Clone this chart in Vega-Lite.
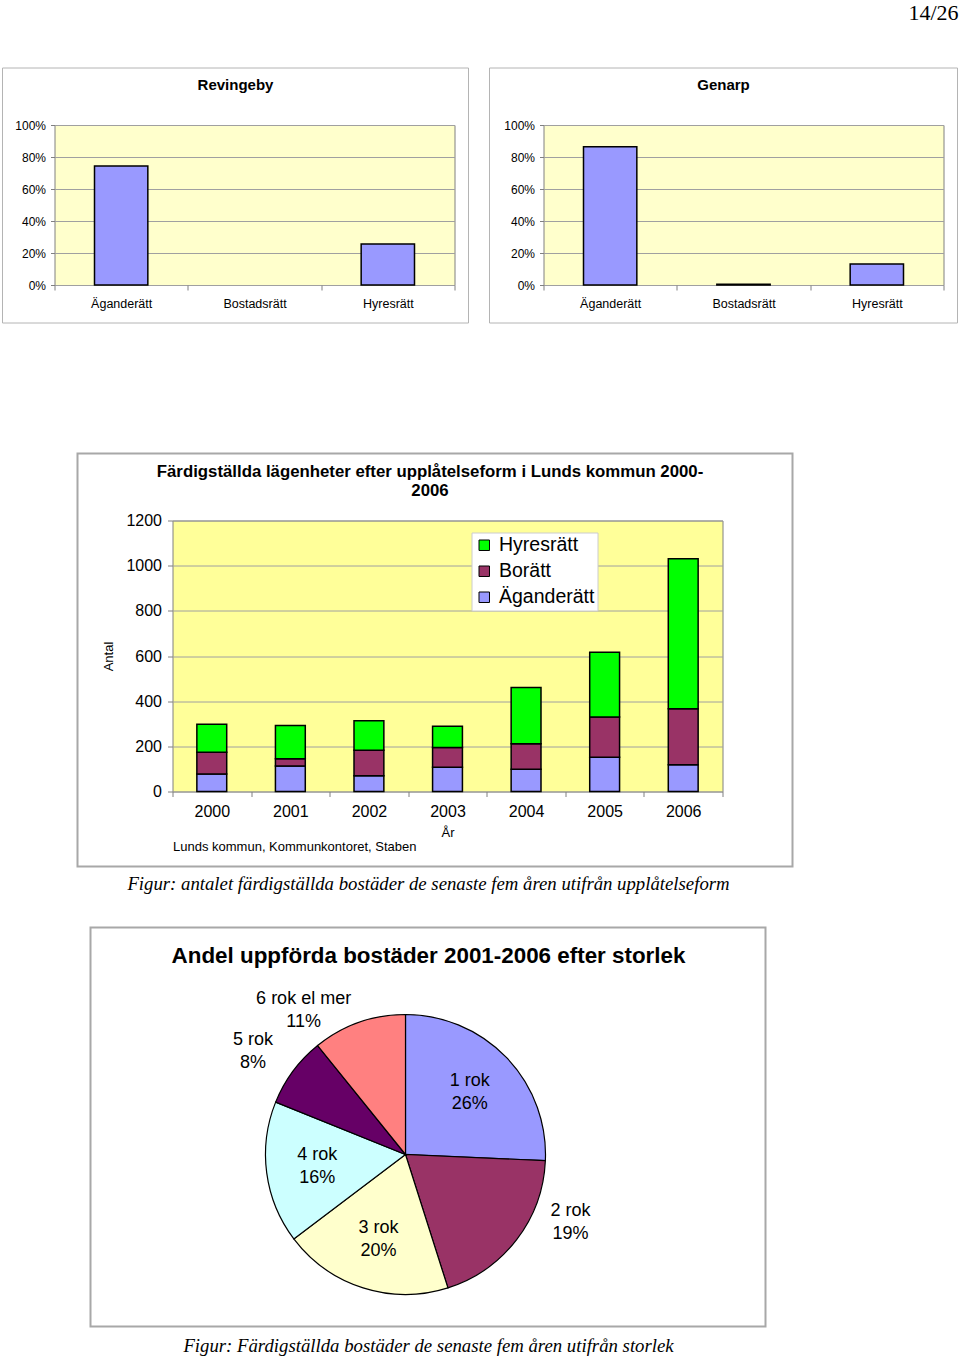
{
  "$schema": "https://vega.github.io/schema/vega-lite/v6.json",
  "background": "white",
  "padding": {"left": 1.5, "top": 2, "right": 2, "bottom": 2},
  "title": {"text": "14/26", "anchor": "end", "frame": "bounds", "font": "Liberation Serif", "fontSize": 22, "fontWeight": "normal", "color": "black", "offset": 42},
  "config": {
    "font": "Liberation Sans",
    "view": {"stroke": null},
    "axis": {"labelColor": "black", "titleColor": "black", "labelFont": "Liberation Sans", "titleFont": "Liberation Sans", "titleFontWeight": "normal"},
    "title": {"color": "black", "subtitleColor": "black"}
  },
  "spacing": 127.5,
  "resolve": {"scale": {"color": "independent"}, "legend": {"color": "independent"}},
  "vconcat": [
    {
      "hconcat": [
        {
          "width": 400, "height": 160,
          "view": {"fill": "#FFFFCC", "stroke": "#808080", "strokeWidth": 1},
          "title": {"text": "Revingeby", "frame": "bounds", "anchor": "middle", "fontSize": 15, "fontWeight": "bold", "offset": -25},
          "layer": [
            {"data": {"values": [{}]}, "mark": {"type": "rect", "filled": false, "stroke": "#b4b4b4", "strokeWidth": 1},
             "encoding": {
               "x": {"datum": 0, "type": "quantitative", "scale": {"domain": [0, 1], "range": [-52, 414]}, "axis": null},
               "x2": {"datum": 1},
               "y": {"datum": 0, "type": "quantitative", "scale": {"domain": [0, 1], "range": [-57, 198]}, "axis": null},
               "y2": {"datum": 1}}},
            {"data": {"values": [{"form": "Äganderätt", "andel": 0.743}, {"form": "Hyresrätt", "andel": 0.257}]},
             "mark": {"type": "bar", "fill": "#9999FF", "stroke": "black", "strokeWidth": 1.5, "width": {"band": 0.4}},
             "encoding": {
               "x": {"field": "form", "type": "nominal", "sort": null, "scale": {"domain": ["Äganderätt", "Bostadsrätt", "Hyresrätt"], "paddingInner": 0, "paddingOuter": 0},
                     "axis": {"title": null, "labelAngle": 0, "labelFontSize": 12.5, "labelPadding": 7, "tickBand": "extent", "tickSize": 5, "tickColor": "#808080", "domain": false, "grid": false}},
               "y": {"field": "andel", "type": "quantitative", "scale": {"domain": [0, 1]},
                     "axis": {"title": null, "values": [0, 0.2, 0.4, 0.6, 0.8, 1], "format": ".0%", "labelFontSize": 12, "labelPadding": 5, "tickSize": 4, "tickColor": "#808080", "domain": false, "grid": true, "gridColor": "#a0a0a0"}}}}
          ],
          "resolve": {"scale": {"x": "independent", "y": "independent"}}
        },
        {
          "width": 400, "height": 160,
          "view": {"fill": "#FFFFCC", "stroke": "#808080", "strokeWidth": 1},
          "title": {"text": "Genarp", "frame": "bounds", "anchor": "middle", "fontSize": 15, "fontWeight": "bold", "offset": -25},
          "layer": [
            {"data": {"values": [{}]}, "mark": {"type": "rect", "filled": false, "stroke": "#b4b4b4", "strokeWidth": 1},
             "encoding": {
               "x": {"datum": 0, "type": "quantitative", "scale": {"domain": [0, 1], "range": [-54, 414]}, "axis": null},
               "x2": {"datum": 1},
               "y": {"datum": 0, "type": "quantitative", "scale": {"domain": [0, 1], "range": [-57, 198]}, "axis": null},
               "y2": {"datum": 1}}},
            {"data": {"values": [{"form": "Äganderätt", "andel": 0.864}, {"form": "Bostadsrätt", "andel": 0.005}, {"form": "Hyresrätt", "andel": 0.131}]},
             "mark": {"type": "bar", "fill": "#9999FF", "stroke": "black", "strokeWidth": 1.5, "width": {"band": 0.4}},
             "encoding": {
               "x": {"field": "form", "type": "nominal", "sort": null, "scale": {"domain": ["Äganderätt", "Bostadsrätt", "Hyresrätt"], "paddingInner": 0, "paddingOuter": 0},
                     "axis": {"title": null, "labelAngle": 0, "labelFontSize": 12.5, "labelPadding": 7, "tickBand": "extent", "tickSize": 5, "tickColor": "#808080", "domain": false, "grid": false}},
               "y": {"field": "andel", "type": "quantitative", "scale": {"domain": [0, 1]},
                     "axis": {"title": null, "values": [0, 0.2, 0.4, 0.6, 0.8, 1], "format": ".0%", "labelFontSize": 12, "labelPadding": 5, "tickSize": 4, "tickColor": "#808080", "domain": false, "grid": true, "gridColor": "#a0a0a0"}}}}
          ],
          "resolve": {"scale": {"x": "independent", "y": "independent"}}
        }
      ],
      "spacing": 89,
      "bounds": "flush"
    },
    {
      "spacing": 6,
      "resolve": {"scale": {"color": "independent"}, "legend": {"color": "independent"}},
      "vconcat": [
        {
          "spacing": 0,
          "bounds": "flush",
          "hconcat": [
            {"width": 118, "height": 1, "data": {"values": []}, "mark": "point", "encoding": {}},
            {
              "width": 550, "height": 271,
              "view": {"fill": "#FFFF99", "stroke": "#808080", "strokeWidth": 1},
              "title": {"text": ["Färdigställda lägenheter efter upplåtelseform i Lunds kommun 2000-", "2006"], "frame": "bounds", "anchor": "middle", "dx": -5, "fontSize": 16.8, "fontWeight": "bold", "lineHeight": 19, "offset": -47},
              "layer": [
                {"data": {"values": [{}]}, "mark": {"type": "rect", "filled": false, "stroke": "#a8a8a8", "strokeWidth": 2},
                 "encoding": {
                   "x": {"datum": 0, "type": "quantitative", "scale": {"domain": [0, 1], "range": [-95, 620]}, "axis": null},
                   "x2": {"datum": 1},
                   "y": {"datum": 0, "type": "quantitative", "scale": {"domain": [0, 1], "range": [-67, 346]}, "axis": null},
                   "y2": {"datum": 1}}},
                {"data": {"values": [
                  {"year": "2000", "form": "Äganderätt", "nr": 1, "antal": 77},
                  {"year": "2000", "form": "Borätt", "nr": 2, "antal": 97},
                  {"year": "2000", "form": "Hyresrätt", "nr": 3, "antal": 124},
                  {"year": "2001", "form": "Äganderätt", "nr": 1, "antal": 113},
                  {"year": "2001", "form": "Borätt", "nr": 2, "antal": 32},
                  {"year": "2001", "form": "Hyresrätt", "nr": 3, "antal": 147},
                  {"year": "2002", "form": "Äganderätt", "nr": 1, "antal": 70},
                  {"year": "2002", "form": "Borätt", "nr": 2, "antal": 113},
                  {"year": "2002", "form": "Hyresrätt", "nr": 3, "antal": 130},
                  {"year": "2003", "form": "Äganderätt", "nr": 1, "antal": 107},
                  {"year": "2003", "form": "Borätt", "nr": 2, "antal": 88},
                  {"year": "2003", "form": "Hyresrätt", "nr": 3, "antal": 94},
                  {"year": "2004", "form": "Äganderätt", "nr": 1, "antal": 99},
                  {"year": "2004", "form": "Borätt", "nr": 2, "antal": 112},
                  {"year": "2004", "form": "Hyresrätt", "nr": 3, "antal": 250},
                  {"year": "2005", "form": "Äganderätt", "nr": 1, "antal": 152},
                  {"year": "2005", "form": "Borätt", "nr": 2, "antal": 178},
                  {"year": "2005", "form": "Hyresrätt", "nr": 3, "antal": 287},
                  {"year": "2006", "form": "Äganderätt", "nr": 1, "antal": 118},
                  {"year": "2006", "form": "Borätt", "nr": 2, "antal": 248},
                  {"year": "2006", "form": "Hyresrätt", "nr": 3, "antal": 665}
                ]},
                 "layer": [
                   {"mark": {"type": "bar", "stroke": "black", "strokeWidth": 1.5, "width": {"band": 0.38}},
                    "encoding": {
                      "x": {"field": "year", "type": "ordinal", "scale": {"paddingInner": 0, "paddingOuter": 0},
                            "axis": {"orient": "bottom", "title": "År", "titleFontSize": 13, "titlePadding": 7, "labelAngle": 0, "labelFontSize": 16, "labelPadding": 7, "tickBand": "extent", "tickSize": 5, "tickColor": "#808080", "domain": false, "grid": false}},
                      "y": {"field": "antal", "type": "quantitative", "stack": "zero", "scale": {"domain": [0, 1200]},
                            "axis": {"title": "Antal", "titleFontSize": 13, "titlePadding": 10, "values": [0, 200, 400, 600, 800, 1000, 1200], "format": "d", "labelFontSize": 16, "labelPadding": 6, "tickSize": 5, "tickColor": "#808080", "domain": false, "grid": true, "gridColor": "#a0a0a0"}},
                      "color": {"field": "form", "type": "nominal",
                                "scale": {"domain": ["Hyresrätt", "Borätt", "Äganderätt"], "range": ["#00FF00", "#993366", "#9999FF"]},
                                "legend": {"orient": "none", "legendX": 417, "legendY": 12, "title": null, "fillColor": "white", "strokeColor": "#cccccc", "padding": 3, "symbolType": "square", "symbolSize": 110, "symbolStrokeColor": "black", "symbolStrokeWidth": 1, "labelFontSize": 19.5, "labelOffset": 5, "rowPadding": 5, "labelColor": "black"}},
                      "order": {"field": "nr", "type": "quantitative"}}},
                   {"mark": {"type": "tick", "opacity": 0},
                    "encoding": {
                      "x": {"field": "year", "type": "ordinal",
                            "axis": {"orient": "bottom", "title": "Lunds kommun, Kommunkontoret, Staben", "titleAnchor": "start", "titleFontSize": 13, "titlePadding": 49, "labels": false, "ticks": false, "domain": false, "grid": false}}}}
                 ],
                 "resolve": {"axis": {"x": "independent"}}}
              ],
              "resolve": {"scale": {"x": "independent", "y": "independent"}}
            }
          ]
        },
        {
          "spacing": 0,
          "bounds": "flush",
          "hconcat": [
            {"width": 211, "height": 1, "data": {"values": []}, "mark": "point", "encoding": {}},
            {
              "width": 280, "height": 258,
              "title": {"text": "Figur: antalet färdigställda bostäder de senaste fem åren utifrån upplåtelseform", "subtitle": "Andel uppförda bostäder 2001-2006 efter storlek", "frame": "group", "anchor": "middle", "dx": 23, "font": "Liberation Serif", "fontStyle": "italic", "fontWeight": "normal", "fontSize": 18.75, "subtitleFont": "Liberation Sans", "subtitleFontWeight": "bold", "subtitleFontSize": 22.4, "subtitlePadding": 51, "offset": -41},
              "layer": [
                {"data": {"values": [{}]}, "mark": {"type": "rect", "filled": false, "stroke": "#a8a8a8", "strokeWidth": 2},
                 "encoding": {
                   "x": {"datum": 0, "type": "quantitative", "scale": {"domain": [0, 1], "range": [-175, 500]},
                         "axis": {"orient": "bottom", "title": "Figur: Färdigställda bostäder de senaste fem åren utifrån storlek", "titleFont": "Liberation Serif", "titleFontStyle": "italic", "titleFontWeight": "normal", "titleFontSize": 18.75, "titlePadding": 53, "labels": false, "ticks": false, "domain": false, "grid": false}},
                   "x2": {"datum": 1},
                   "y": {"datum": 0, "type": "quantitative", "scale": {"domain": [0, 1], "range": [-98, 301]}, "axis": null},
                   "y2": {"datum": 1}}},
                {"data": {"values": [
                  {"storlek": "1 rok", "andel": 25.7, "label": "1 rok\n26%"},
                  {"storlek": "2 rok", "andel": 19.4, "label": "2 rok\n19%"},
                  {"storlek": "3 rok", "andel": 19.6, "label": "3 rok\n20%"},
                  {"storlek": "4 rok", "andel": 16.4, "label": "4 rok\n16%"},
                  {"storlek": "5 rok", "andel": 8.1, "label": "5 rok\n8%"},
                  {"storlek": "6 rok el mer", "andel": 10.8, "label": "6 rok el mer\n11%"}
                ]},
                 "encoding": {"theta": {"field": "andel", "type": "quantitative", "stack": true}},
                 "layer": [
                   {"mark": {"type": "arc", "outerRadius": 140, "stroke": "black", "strokeWidth": 1.2},
                    "encoding": {"color": {"field": "storlek", "type": "nominal",
                      "scale": {"domain": ["1 rok", "2 rok", "3 rok", "4 rok", "5 rok", "6 rok el mer"], "range": ["#9999FF", "#993366", "#FFFFCC", "#CCFFFF", "#660066", "#FF8080"]}, "legend": null}}},
                   {"mark": {"type": "text", "radius": 89, "dy": -11.5, "fontSize": 18, "lineHeight": 23, "lineBreak": "\n", "fill": "black"},
                    "encoding": {"detail": {"field": "storlek", "type": "nominal"},
                      "text": {"condition": {"test": "indexof(['1 rok','3 rok','4 rok'], datum.storlek) >= 0", "field": "label", "type": "nominal"}, "value": ""}}},
                   {"mark": {"type": "text", "radius": 178, "thetaOffset": -0.27, "dy": -10, "fontSize": 18, "lineHeight": 23, "lineBreak": "\n", "fill": "black"},
                    "encoding": {"detail": {"field": "storlek", "type": "nominal"},
                      "text": {"condition": {"test": "indexof(['2 rok','6 rok el mer'], datum.storlek) >= 0", "field": "label", "type": "nominal"}, "value": ""}}},
                   {"mark": {"type": "text", "radius": 184, "thetaOffset": -0.044, "dy": -11.5, "fontSize": 18, "lineHeight": 23, "lineBreak": "\n", "fill": "black"},
                    "encoding": {"detail": {"field": "storlek", "type": "nominal"},
                      "text": {"condition": {"test": "datum.storlek === '5 rok'", "field": "label", "type": "nominal"}, "value": ""}}}
                 ]}
              ],
              "resolve": {"scale": {"x": "independent", "y": "independent"}}
            }
          ]
        }
      ]
    }
  ]
}
